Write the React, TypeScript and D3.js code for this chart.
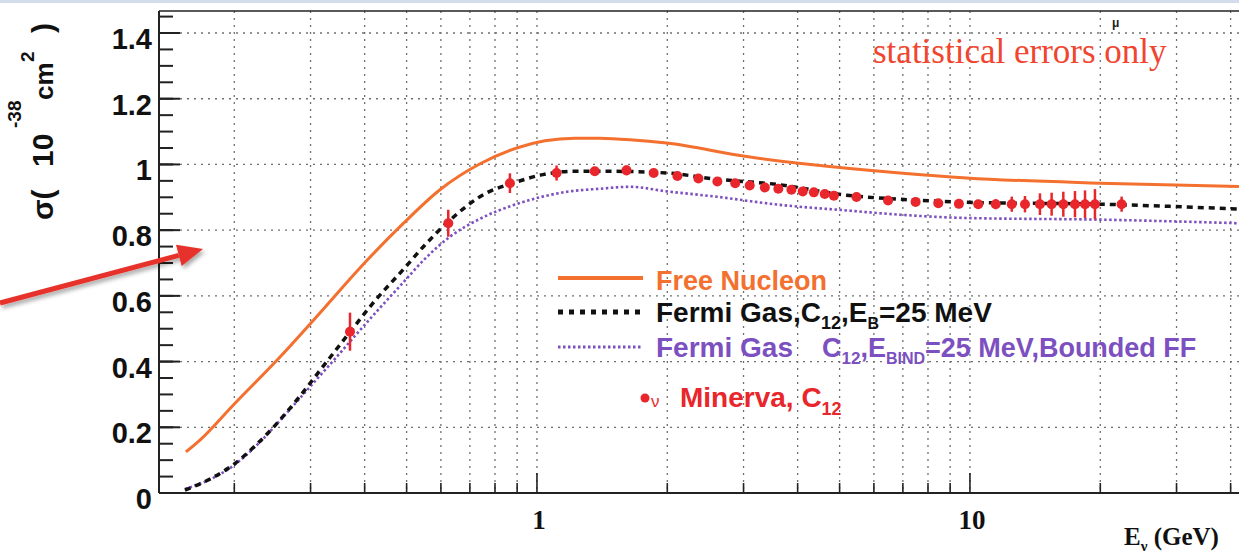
import React from 'react';
import * as d3 from 'd3';

// ---------- data ----------
const freeE = [0.1546, 0.1666, 0.199, 0.255, 0.3153, 0.39, 0.49, 0.597, 0.739, 0.898, 1.043, 1.224, 1.398, 1.64, 1.993, 3.05, 4.34, 6.89, 9.82, 19.95, 41.8];
const freeSigma = [0.125, 0.161, 0.268, 0.414, 0.548, 0.685, 0.819, 0.923, 1.002, 1.05, 1.072, 1.08, 1.0795, 1.075, 1.065, 1.024, 0.999, 0.974, 0.959, 0.943, 0.933];

const fermiE = [0.1538, 0.1757, 0.1986, 0.2256, 0.2549, 0.2836, 0.324, 0.37, 0.4225, 0.4903, 0.5512, 0.6196, 0.7667, 0.88, 1.032, 1.211, 1.5, 1.993, 2.55, 3.64, 5.2, 6.89, 9.84, 19.96, 41.8];
const fermiSigma = [0.009, 0.0426, 0.0853, 0.149, 0.222, 0.295, 0.393, 0.49, 0.585, 0.679, 0.755, 0.822, 0.914, 0.943, 0.969, 0.979, 0.979, 0.974, 0.9564, 0.9382, 0.9062, 0.894, 0.8849, 0.879, 0.8642];

const boundE = [0.1538, 0.1757, 0.1986, 0.2293, 0.2618, 0.299, 0.3416, 0.38, 0.4339, 0.4903, 0.5512, 0.6293, 0.7386, 0.88, 1.016, 1.173, 1.398, 1.64, 1.993, 2.55, 3.64, 5.19, 6.89, 9.82, 19.95, 41.8];
const boundSigma = [0.0122, 0.0411, 0.0822, 0.1553, 0.2376, 0.3229, 0.4082, 0.4782, 0.5635, 0.6397, 0.7128, 0.7798, 0.8346, 0.8757, 0.9001, 0.9168, 0.926, 0.932, 0.918, 0.903, 0.877, 0.86, 0.847, 0.837, 0.832, 0.821];

const dataE = [0.37, 0.624, 0.866, 1.11, 1.36, 1.61, 1.86, 2.11, 2.36, 2.61, 2.87, 3.1, 3.36, 3.61, 3.87, 4.11, 4.36, 4.62, 4.85, 5.47, 6.47, 7.49, 8.45, 9.43, 10.45, 11.47, 12.49, 13.4, 14.51, 15.44, 16.43, 17.48, 18.44, 19.44, 22.4];
const dataSigma = [0.491, 0.821, 0.943, 0.974, 0.979, 0.982, 0.974, 0.965, 0.957, 0.948, 0.943, 0.936, 0.93, 0.926, 0.923, 0.918, 0.915, 0.91, 0.905, 0.901, 0.89, 0.886, 0.882, 0.88, 0.879, 0.879, 0.879, 0.879, 0.879, 0.879, 0.879, 0.879, 0.879, 0.879, 0.879];
const dataErr = [0.058, 0.041, 0.03, 0.023, 0.008, 0.015, 0.008, 0.008, 0.008, 0.008, 0.008, 0.008, 0.008, 0.008, 0.008, 0.008, 0.008, 0.008, 0.008, 0.008, 0.01, 0.01, 0.01, 0.012, 0.012, 0.015, 0.023, 0.025, 0.033, 0.035, 0.038, 0.04, 0.042, 0.046, 0.023];

const yTickValues = [0, 0.2, 0.4, 0.6, 0.8, 1.0, 1.2, 1.4];
const yTickLabels = ['0', '0.2', '0.4', '0.6', '0.8', '1', '1.2', '1.4'];
const yMinorStep = 0.05;
const xGridValues = [0.2, 0.3, 0.4, 0.5, 0.6, 0.7, 0.8, 0.9, 1, 2, 3, 4, 5, 6, 7, 8, 9, 10, 20, 30, 40];
const xMajorValues = [1, 10];
const xMajorLabels = ['1', '10'];

// ---------- layout ----------
const W = 1239;
const H = 555;
const plotLeft = 159;
const plotTop = 11;
const plotBottom = 493;

const SANS = '"Liberation Sans", Arial, Helvetica, sans-serif';
const SERIF = '"Liberation Serif", "Times New Roman", serif';

const ORANGE = '#f3702f';
const PURPLE = '#7c50c0';
const RED = '#e8262b';

export default function App() {
  const x = d3.scaleLog().domain([0.134, 50]).range([plotLeft, 1272.6]);
  const y = d3.scaleLinear().domain([0, 1.467]).range([plotBottom, plotTop]);

  const line = d3
    .line<[number, number]>()
    .x((d) => x(d[0]))
    .y((d) => y(d[1]))
    .curve(d3.curveMonotoneX);

  const freePath = line(freeE.map((e, i) => [e, freeSigma[i]]) as [number, number][]) || '';
  const fermiPath = line(fermiE.map((e, i) => [e, fermiSigma[i]]) as [number, number][]) || '';
  const boundPath = line(boundE.map((e, i) => [e, boundSigma[i]]) as [number, number][]) || '';

  const minorY = d3.range(0, 1.4501, yMinorStep);

  // arrow geometry
  const a0 = [0, 303];
  const tip = [203, 249];
  const dx = tip[0] - a0[0];
  const dy = tip[1] - a0[1];
  const len = Math.hypot(dx, dy);
  const ux = dx / len;
  const uy = dy / len;
  const px = -uy;
  const py = ux;
  const hl = 25;
  const hw = 11;
  const bx = tip[0] - ux * hl;
  const by = tip[1] - uy * hl;
  const headPts = `${tip[0]},${tip[1]} ${bx + px * hw},${by + py * hw} ${bx - px * hw},${by - py * hw}`;

  return (
    <svg
      width={W}
      height={H}
      viewBox={`0 0 ${W} ${H}`}
      style={{ position: 'absolute', left: 0, top: 0, background: '#fff' }}
    >
      <defs>
        <filter id="shadow" x="-10%" y="-50%" width="130%" height="200%">
          <feDropShadow dx="2" dy="3" stdDeviation="2" floodColor="#000" floodOpacity="0.35" />
        </filter>
      </defs>
      <rect x={0} y={0} width={W} height={H} fill="#fff" />
      <rect x={0} y={0} width={W} height={3} fill="#d3dceb" />

      {/* grid */}
      <g stroke="#333" strokeWidth={1.3} strokeDasharray="2,5" opacity={0.7}>
        {yTickValues.slice(1).map((v) => (
          <line key={'gy' + v} x1={plotLeft} x2={W} y1={y(v)} y2={y(v)} />
        ))}
        {xGridValues.map((v) => (
          <line key={'gx' + v} x1={x(v)} x2={x(v)} y1={plotTop} y2={plotBottom} />
        ))}
      </g>

      {/* frame */}
      <line x1={plotLeft} x2={W} y1={plotTop} y2={plotTop} stroke="#222" strokeWidth={1.5} />
      <line x1={plotLeft} x2={plotLeft} y1={plotTop} y2={plotBottom} stroke="#222" strokeWidth={2} />
      <line x1={plotLeft} x2={W} y1={plotBottom} y2={plotBottom} stroke="#222" strokeWidth={2.2} />

      {/* y ticks */}
      <g stroke="#222" strokeWidth={2}>
        {minorY.map((v) => (
          <line key={'my' + v} x1={plotLeft} x2={plotLeft + 14} y1={y(v)} y2={y(v)} />
        ))}
        {yTickValues.map((v) => (
          <line key={'My' + v} x1={plotLeft} x2={plotLeft + 21} y1={y(v)} y2={y(v)} />
        ))}
      </g>
      <g fontFamily={SANS} fontWeight="bold" fontSize={29} fill="#111" textAnchor="end">
        {yTickValues.map((v, i) => (
          <text key={'ly' + v} x={152} y={y(v) + 16}>
            {yTickLabels[i]}
          </text>
        ))}
      </g>

      {/* x ticks */}
      <g stroke="#222" strokeWidth={1.6}>
        {xGridValues.map((v) => (
          <line
            key={'tx' + v}
            x1={x(v)}
            x2={x(v)}
            y1={plotBottom}
            y2={plotBottom - (xMajorValues.includes(v) ? 20 : 10)}
          />
        ))}
      </g>
      <g fontFamily={SERIF} fontWeight="bold" fontSize={27} fill="#111" textAnchor="middle">
        {xMajorValues.map((v, i) => (
          <text key={'lx' + v} x={x(v) + 2} y={529}>
            {xMajorLabels[i]}
          </text>
        ))}
      </g>
      <text x={1124} y={545} fontFamily={SERIF} fontWeight="bold" fontSize={25} fill="#111">
        E
        <tspan fontSize={15} dy={6}>ν</tspan>
        <tspan dy={-6}> (GeV)</tspan>
      </text>

      {/* y axis title */}
      <g transform="translate(53,220) rotate(-90)" fontFamily={SANS} fontWeight="bold" fill="#111">
        <text x={0} y={0} fontSize={30}>σ(</text>
        <text x={53} y={0} fontSize={30}>10</text>
        <text x={92} y={-32} fontSize={19}>-38</text>
        <text x={120} y={0} fontSize={26}>cm</text>
        <text x={158} y={-19} fontSize={19}>2</text>
        <text x={187} y={0} fontSize={30}>)</text>
      </g>

      {/* curves */}
      <path d={freePath} fill="none" stroke={ORANGE} strokeWidth={3} />
      <path d={boundPath} fill="none" stroke={PURPLE} strokeWidth={2.6} strokeDasharray="2.5,2.5" />
      <path d={fermiPath} fill="none" stroke="#111" strokeWidth={3.5} strokeDasharray="6,5" />

      {/* data points */}
      <g stroke={RED} fill={RED}>
        {dataE.map((e, i) => (
          <g key={'pt' + i}>
            <line
              x1={x(e)}
              x2={x(e)}
              y1={y(dataSigma[i] - dataErr[i])}
              y2={y(dataSigma[i] + dataErr[i])}
              strokeWidth={2.5}
            />
            <circle cx={x(e)} cy={y(dataSigma[i])} r={5} stroke="none" />
          </g>
        ))}
      </g>

      {/* legend */}
      <line x1={558} x2={643} y1={278} y2={278} stroke={ORANGE} strokeWidth={4} />
      <text x={656} y={290} fontFamily={SANS} fontWeight="bold" fontSize={27} fill={ORANGE}>
        Free Nucleon
      </text>
      <line x1={558} x2={643} y1={312} y2={312} stroke="#111" strokeWidth={5} strokeDasharray="5,6" />
      <text x={656} y={322} fontFamily={SANS} fontWeight="bold" fontSize={28} fill="#111">
        Fermi Gas,C
        <tspan fontSize={18} dy={7}>12</tspan>
        <tspan dy={-7}>,E</tspan>
        <tspan fontSize={16} dy={7}>B</tspan>
        <tspan dy={-7}>=25 MeV</tspan>
      </text>
      <line x1={558} x2={643} y1={347} y2={347} stroke={PURPLE} strokeWidth={3} strokeDasharray="2.5,2.5" />
      <text x={656} y={357} fontFamily={SANS} fontWeight="bold" fontSize={27} fill={PURPLE}>
        <tspan fontSize={28}>Fermi Gas</tspan>
        <tspan x={822}>C</tspan>
        <tspan fontSize={17} dy={7}>12</tspan>
        <tspan dy={-7}>,E</tspan>
        <tspan fontSize={16} dy={7}>BIND</tspan>
        <tspan dy={-7}>=25 MeV,Bounded FF</tspan>
      </text>
      <circle cx={645} cy={398} r={4.5} fill={RED} />
      <text x={651} y={407} fontFamily={SANS} fontSize={17} fill={RED}>ν</text>
      <text x={680} y={407} fontFamily={SANS} fontWeight="bold" fontSize={28} fill={RED}>
        Minerva, C
        <tspan fontSize={18} dy={8}>12</tspan>
      </text>

      {/* annotation */}
      <text x={873} y={63} fontFamily={SERIF} fontSize={35} fill="#f0452f">
        statistical errors only
      </text>
      <text x={1112} y={27} fontFamily={SANS} fontWeight="bold" fontSize={12} fill="#222">μ</text>

      {/* red arrow */}
      <g filter="url(#shadow)">
        <line x1={a0[0]} y1={a0[1]} x2={bx} y2={by} stroke="#e63229" strokeWidth={5} />
        <polygon points={headPts} fill="#e63229" />
      </g>
    </svg>
  );
}
